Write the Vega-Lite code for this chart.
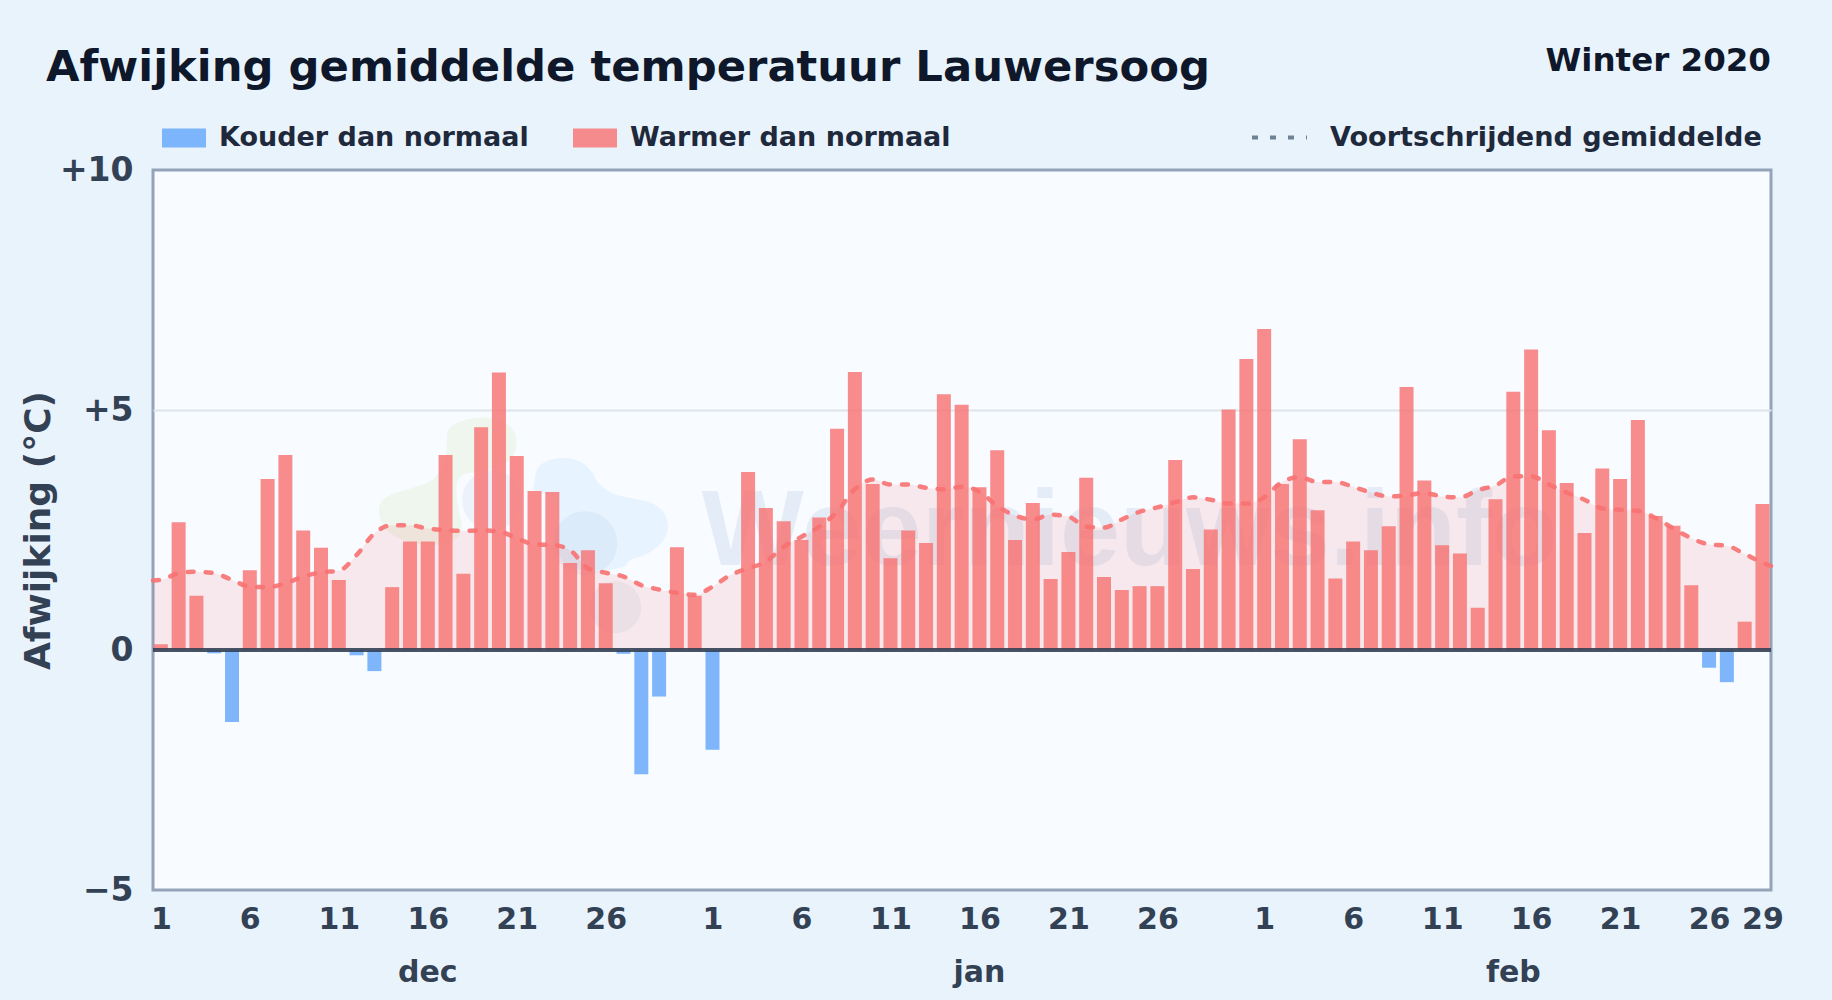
{"$schema":"https://vega.github.io/schema/vega-lite/v6.json","width":1618,"height":720,"autosize":"none","padding":{"left":153,"top":170,"right":61,"bottom":110},"background":"#e9f3fc","title":{"text":"Afwijking gemiddelde temperatuur Lauwersoog","anchor":"start","frame":"group","dx":-107,"offset":-79,"baseline":"alphabetic","font":"DejaVu Sans","fontWeight":"bold","fontSize":43.3,"color":"#0f172a"},"config":{"font":"DejaVu Sans","view":{"fill":"#f8fbff","stroke":"#94a3b8","strokeWidth":3}},"datasets":{"daily":[{"d":0.56,"v":null,"m":1.45},{"d":1,"v":0.12,"m":1.46},{"d":2,"v":2.66,"m":1.6},{"d":3,"v":1.13,"m":1.63},{"d":4,"v":-0.07,"m":1.6},{"d":5,"v":-1.5,"m":1.46},{"d":6,"v":1.66,"m":1.32},{"d":7,"v":3.56,"m":1.31},{"d":8,"v":4.06,"m":1.39},{"d":9,"v":2.49,"m":1.53},{"d":10,"v":2.13,"m":1.62},{"d":11,"v":1.46,"m":1.65},{"d":12,"v":-0.11,"m":1.98},{"d":13,"v":-0.44,"m":2.43},{"d":14,"v":1.31,"m":2.6},{"d":15,"v":2.26,"m":2.6},{"d":16,"v":2.26,"m":2.53},{"d":17,"v":4.06,"m":2.5},{"d":18,"v":1.59,"m":2.48},{"d":19,"v":4.64,"m":2.49},{"d":20,"v":5.78,"m":2.47},{"d":21,"v":4.04,"m":2.33},{"d":22,"v":3.31,"m":2.2},{"d":23,"v":3.29,"m":2.19},{"d":24,"v":1.81,"m":2.08},{"d":25,"v":2.08,"m":1.7},{"d":26,"v":1.39,"m":1.61},{"d":27,"v":-0.08,"m":1.53},{"d":28,"v":-2.59,"m":1.35},{"d":29,"v":-0.97,"m":1.26},{"d":30,"v":2.14,"m":1.19},{"d":31,"v":1.13,"m":1.15},{"d":32,"v":-2.08,"m":1.32},{"d":33,"v":0,"m":1.56},{"d":34,"v":3.71,"m":1.7},{"d":35,"v":2.96,"m":1.84},{"d":36,"v":2.68,"m":2.15},{"d":37,"v":2.29,"m":2.36},{"d":38,"v":2.76,"m":2.57},{"d":39,"v":4.61,"m":2.88},{"d":40,"v":5.79,"m":3.35},{"d":41,"v":3.46,"m":3.55},{"d":42,"v":1.91,"m":3.45},{"d":43,"v":2.49,"m":3.45},{"d":44,"v":2.23,"m":3.38},{"d":45,"v":5.33,"m":3.35},{"d":46,"v":5.11,"m":3.4},{"d":47,"v":3.39,"m":3.3},{"d":48,"v":4.16,"m":3.0},{"d":49,"v":2.29,"m":2.8},{"d":50,"v":3.06,"m":2.72},{"d":51,"v":1.48,"m":2.82},{"d":52,"v":2.04,"m":2.78},{"d":53,"v":3.59,"m":2.57},{"d":54,"v":1.52,"m":2.55},{"d":55,"v":1.25,"m":2.72},{"d":56,"v":1.33,"m":2.88},{"d":57,"v":1.33,"m":2.97},{"d":58,"v":3.96,"m":3.08},{"d":59,"v":1.69,"m":3.18},{"d":60,"v":2.51,"m":3.13},{"d":61,"v":5.01,"m":3.05},{"d":62,"v":6.06,"m":3.05},{"d":63,"v":6.69,"m":3.18},{"d":64,"v":3.46,"m":3.5},{"d":65,"v":4.39,"m":3.6},{"d":66,"v":2.91,"m":3.5},{"d":67,"v":1.49,"m":3.5},{"d":68,"v":2.26,"m":3.4},{"d":69,"v":2.08,"m":3.28},{"d":70,"v":2.58,"m":3.2},{"d":71,"v":5.48,"m":3.22},{"d":72,"v":3.53,"m":3.27},{"d":73,"v":2.18,"m":3.2},{"d":74,"v":2.01,"m":3.18},{"d":75,"v":0.88,"m":3.33},{"d":76,"v":3.14,"m":3.43},{"d":77,"v":5.38,"m":3.62},{"d":78,"v":6.26,"m":3.62},{"d":79,"v":4.58,"m":3.45},{"d":80,"v":3.48,"m":3.28},{"d":81,"v":2.44,"m":3.13},{"d":82,"v":3.78,"m":2.95},{"d":83,"v":3.56,"m":2.92},{"d":84,"v":4.79,"m":2.9},{"d":85,"v":2.79,"m":2.75},{"d":86,"v":2.59,"m":2.53},{"d":87,"v":1.35,"m":2.33},{"d":88,"v":-0.37,"m":2.2},{"d":89,"v":-0.67,"m":2.17},{"d":90,"v":0.59,"m":2.0},{"d":91,"v":3.04,"m":1.82},{"d":91.48,"v":null,"m":1.75}]},"layer":[{"data":{"values":[{"t":"Weernieuws.info"}]},"mark":{"type":"text","align":"left","baseline":"alphabetic","font":"Liberation Sans","fontSize":108,"fontWeight":"bold","color":"#3b6fb5","opacity":0.1},"encoding":{"x":{"datum":31.4,"type":"quantitative","scale":{"domain":[0.56,91.48],"nice":false,"zero":false,"padding":0},"axis":{"values":[1,6,11,16,21,26,32,37,42,47,52,57,63,68,73,78,83,88,91],"labelExpr":"datum.value<=31?datum.value:datum.value<=62?datum.value-31:datum.value-62","title":null,"grid":false,"ticks":false,"domain":false,"labelFont":"DejaVu Sans","labelFontWeight":"bold","labelFontSize":30,"labelColor":"#334155","labelPadding":14,"labelFlush":false,"labelOverlap":false}},"y":{"datum":1.77,"type":"quantitative","scale":{"domain":[-5,10],"nice":false,"zero":false,"padding":0},"axis":{"values":[-5,0,5,10],"labelExpr":"datum.value>0?'+'+datum.value:datum.value<0?'−'+abs(datum.value):'0'","title":"Afwijking (°C)","titleFont":"DejaVu Sans","titleFontWeight":"bold","titleFontSize":36,"titleColor":"#334155","titlePadding":2,"grid":true,"gridColor":"#dde5ea","gridWidth":2,"gridOpacity":{"condition":{"test":"datum.value==5","value":1},"value":0},"ticks":false,"domain":false,"labelFont":"DejaVu Sans","labelFontWeight":"bold","labelFontSize":33,"labelColor":"#334155","labelPadding":20}},"text":{"field":"t"}}},{"data":{"values":[{"part":"groen"}]},"mark":{"type":"point","filled":true,"size":4,"color":"#b5dc8a","opacity":0.14,"shape":"M-2 -47C0 -63 60 -73 67 -43C70 -23 57 -10 20 -7C3 -5 7 13 10 33C17 53 10 67 -23 65C-50 63 -73 50 -70 27C-67 10 -30 10 -17 0C0 -13 -3 -30 -2 -47Z"},"encoding":{"x":{"datum":17.2,"type":"quantitative"},"y":{"datum":3.54,"type":"quantitative"}}},{"data":{"values":[{"part":"blauw"}]},"mark":{"type":"point","filled":true,"size":4,"color":"#7cc4f8","opacity":0.14,"shape":"M-70 -40C-67 -57 -27 -63 -13 -40C-3 -17 17 -17 37 -13C67 -7 70 23 47 37C33 47 23 43 20 53C7 57 -13 60 -40 53C-50 37 -57 20 -47 0C-50 -10 -57 -20 -72 -23C-72 -30 -70 -35 -70 -40Z"},"encoding":{"x":{"datum":26,"type":"quantitative"},"y":{"datum":2.85,"type":"quantitative"}}},{"data":{"values":[{"part":"grijs"}]},"mark":{"type":"point","filled":true,"size":4,"color":"#6b8fc0","opacity":0.08,"shape":"M-83 -50a30 30 0 1 0 60 0a30 30 0 1 0 -60 0ZM8 -7a32 32 0 1 0 64 0a32 32 0 1 0 -64 0ZM44 57a26 26 0 1 0 52 0a26 26 0 1 0 -52 0Z"},"encoding":{"x":{"datum":22.6,"type":"quantitative"},"y":{"datum":2.08,"type":"quantitative"}}},{"data":{"values":[{"d":16,"t":"dec"},{"d":47,"t":"jan"},{"d":77,"t":"feb"}]},"mark":{"type":"text","fontSize":30,"fontWeight":"bold","color":"#334155","baseline":"middle"},"encoding":{"x":{"field":"d","type":"quantitative"},"y":{"datum":-6.73,"type":"quantitative"},"text":{"field":"t"}}},{"data":{"values":[{"t":"Winter 2020"}]},"mark":{"type":"text","fontSize":32.5,"fontWeight":"bold","color":"#0f172a","align":"right","baseline":"alphabetic"},"encoding":{"x":{"datum":91.48,"type":"quantitative"},"y":{"datum":12.06,"type":"quantitative"},"text":{"field":"t"}}},{"data":{"name":"daily"},"mark":{"type":"area","color":"#ef4444","opacity":0.1,"interpolate":"monotone"},"encoding":{"x":{"field":"d","type":"quantitative"},"y":{"field":"m","type":"quantitative"},"y2":{"datum":0}}},{"data":{"name":"daily"},"transform":[{"calculate":"datum.v<0?'Kouder dan normaal':'Warmer dan normaal'","as":"kind"}],"mark":{"type":"bar","width":14,"opacity":0.8},"encoding":{"x":{"field":"d","type":"quantitative"},"y":{"field":"v","type":"quantitative"},"y2":{"datum":0},"color":{"field":"kind","type":"nominal","scale":{"domain":["Kouder dan normaal","Warmer dan normaal"],"range":["#60a5fa","#f87171"]},"legend":{"title":null,"orient":"none","direction":"horizontal","legendX":9,"legendY":-54,"symbolType":"M-1,-0.43H1V0.43H-1Z","symbolSize":1936,"symbolOpacity":0.8,"symbolStrokeWidth":0,"labelFont":"DejaVu Sans","labelFontWeight":"bold","labelFontSize":27,"labelColor":"#1e293b","labelOffset":13,"columnPadding":44,"labelLimit":500}}}},{"data":{"name":"daily"},"mark":{"type":"line","color":"#f87171","opacity":0.9,"strokeWidth":4.5,"strokeCap":"round","interpolate":"monotone"},"encoding":{"x":{"field":"d","type":"quantitative"},"y":{"field":"m","type":"quantitative"},"strokeDash":{"datum":"Voortschrijdend gemiddelde","type":"nominal","scale":{"domain":["Voortschrijdend gemiddelde"],"range":[[6,12]]},"legend":{"title":null,"orient":"none","legendX":1097,"legendY":-62,"symbolType":"stroke","symbolSize":3025,"symbolStrokeColor":"#64748b","symbolStrokeWidth":4,"labelFont":"DejaVu Sans","labelFontWeight":"bold","labelFontSize":27.1,"labelColor":"#1e293b","labelOffset":21,"labelLimit":600,"encode":{"symbols":{"update":{"strokeDash":{"value":[5,11]},"stroke":{"value":"#64748b"},"strokeCap":{"value":"butt"},"opacity":{"value":1}}}}}}}},{"data":{"values":[{"z":0}]},"mark":{"type":"rule","color":"#334155","strokeWidth":4,"opacity":0.9},"encoding":{"y":{"field":"z","type":"quantitative"}}}]}
